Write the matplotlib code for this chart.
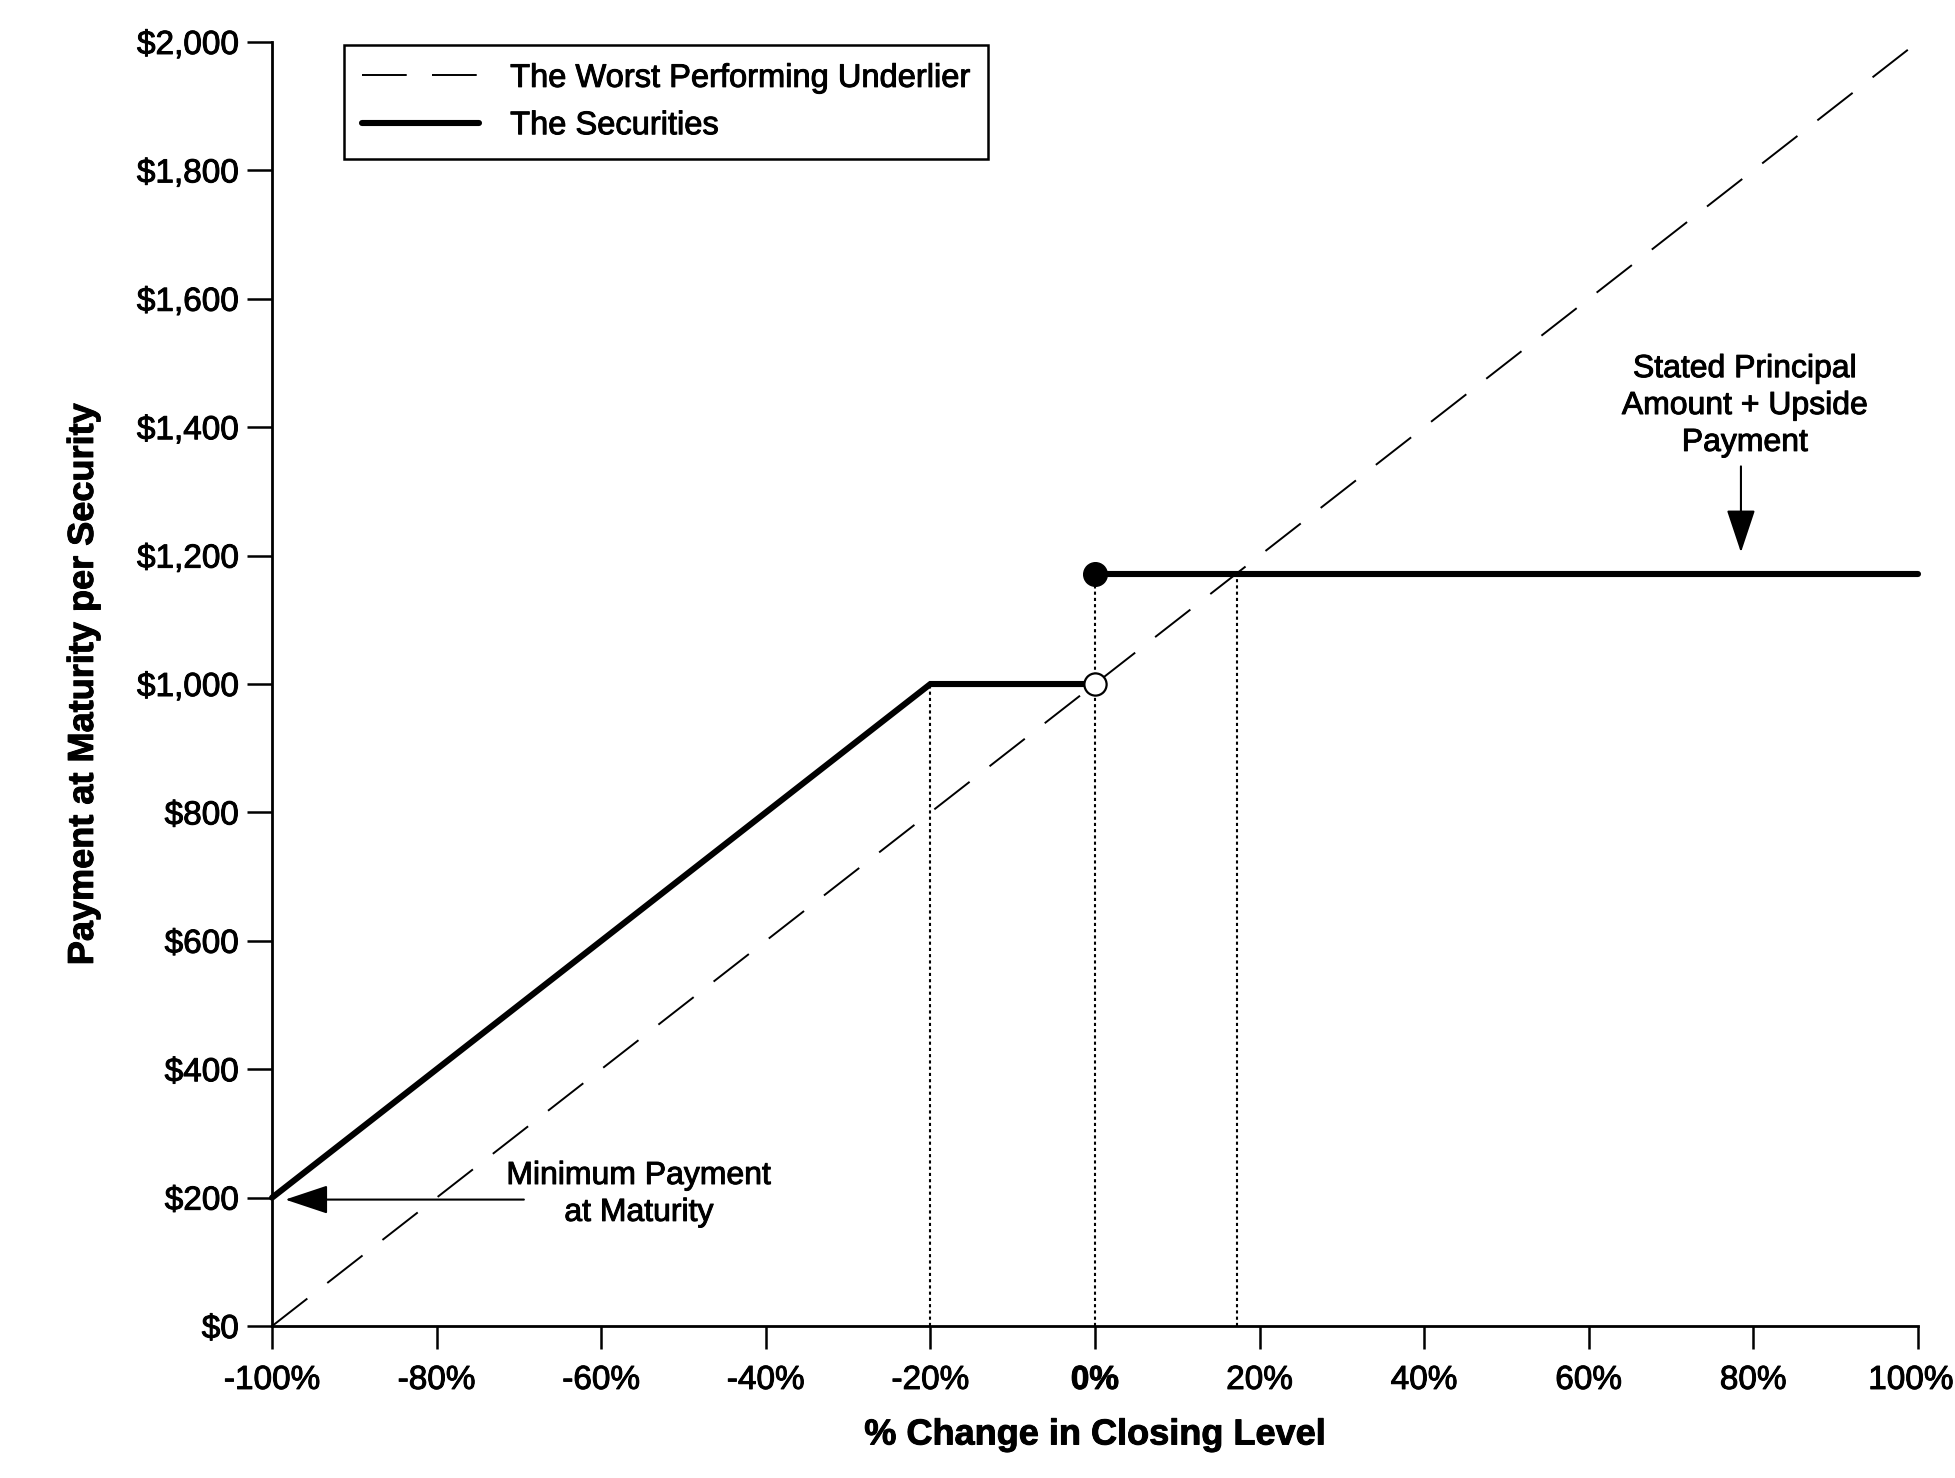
import matplotlib
matplotlib.use("Agg")
import matplotlib.pyplot as plt
import matplotlib.patheffects as pe
import matplotlib.transforms as mtransforms
import numpy as np

plt.rcParams['font.family'] = ['Liberation Sans', 'DejaVu Sans']

# ---- data ----
underlier_x = [-100, 100]
underlier_y = [0, 2000]

secur_x = [-100, -20, 0]
secur_y = [200, 1000, 1000]

upside_x = [0, 100]
upside_y = [1172, 1172]

ref_x = [-20, 0, 17.2]
ref_top = [1000, 1172, 1172]

x_ticks = [-100, -80, -60, -40, -20, 0, 20, 40, 60, 80, 100]
x_ticklabels = ['-100%', '-80%', '-60%', '-40%', '-20%', '0%', '20%', '40%', '60%', '80%', '100%']
y_ticks = [0, 200, 400, 600, 800, 1000, 1200, 1400, 1600, 1800, 2000]
y_ticklabels = ['$0', '$200', '$400', '$600', '$800', '$1,000', '$1,200', '$1,400', '$1,600', '$1,800', '$2,000']

fig = plt.figure(figsize=(19.56, 14.78), dpi=100)
ax = fig.add_axes([0.1391, 0.1028, 0.8414, 0.8688])

FS = 23
TFS = 24
heavy = [pe.withStroke(linewidth=0.7, foreground='black')]

# dotted reference lines
for xv, top in zip(ref_x, ref_top):
    ax.plot([xv, xv], [0, top], color='black', lw=1.5, dashes=(1.5, 1.5), zorder=2, clip_on=False)

# underlier
ax.plot(underlier_x, underlier_y, color='black', lw=1.4, dashes=(23, 13),
        label='The Worst Performing Underlier', zorder=3, clip_on=False)

# securities
ax.plot(secur_x, secur_y, color='black', lw=4.4, solid_capstyle='round', solid_joinstyle='miter',
        label='The Securities', zorder=4, clip_on=False)
ax.plot(upside_x, upside_y, color='black', lw=4.4, solid_capstyle='round', zorder=4, clip_on=False)

# markers
ax.plot([upside_x[0]], [upside_y[0]], 'o', color='black', ms=17, zorder=5, clip_on=False)
ax.plot([secur_x[-1]], [secur_y[-1]], 'o', mfc='white', mec='black', mew=1.6, ms=16, zorder=6, clip_on=False)

ax.set_xlim(-100, 100)
ax.set_ylim(0, 2000)

for s in ['top', 'right']:
    ax.spines[s].set_visible(False)
for s in ['left', 'bottom']:
    ax.spines[s].set_linewidth(2.0)

ax.set_xticks(x_ticks)
ax.set_xticklabels(x_ticklabels, fontsize=TFS)
ax.set_yticks(y_ticks)
ax.set_yticklabels(y_ticklabels, fontsize=TFS)
for lab in ax.get_xticklabels():
    if lab.get_text() == '0%':
        lab.set_fontweight('bold')
for lab in ax.get_xticklabels() + ax.get_yticklabels():
    lab.set_path_effects(heavy)
ax.tick_params(axis='x', direction='out', length=16.5, width=1.8, pad=11.5, color='black')
ax.tick_params(axis='y', direction='out', length=18, width=1.8, pad=6, color='black')

# keep the last x tick label inside the figure
last = ax.get_xticklabels()[-1]
last.set_transform(last.get_transform() + mtransforms.ScaledTranslation(-0.07, 0, fig.dpi_scale_trans))

ax.set_xlabel('% Change in Closing Level', fontsize=26, fontweight='bold', labelpad=15.5)
ax.set_ylabel('Payment at Maturity per Security', fontsize=26, fontweight='bold')
ax.yaxis.set_label_coords(-0.104, 0.5)
ax.xaxis.label.set_path_effects(heavy)
ax.yaxis.label.set_path_effects(heavy)

leg = ax.legend(loc='upper left', bbox_to_anchor=(0.0437, 0.9977), borderaxespad=0,
                fontsize=23.5, frameon=True, fancybox=False, framealpha=1, edgecolor='black',
                handlelength=3.59, handletextpad=0.95, borderpad=0.55, labelspacing=0.5)
leg.get_frame().set_linewidth(1.8)
for t in leg.get_texts():
    t.set_path_effects(heavy)

# annotations
t1 = ax.text(79.0, 1433, 'Stated Principal\nAmount + Upside\nPayment', ha='center', va='center',
             fontsize=FS, linespacing=1.3)
ax.annotate('', xy=(78.5, 1205), xytext=(78.5, 1339),
            arrowprops=dict(arrowstyle='-|>,head_length=0.9,head_width=0.3', mutation_scale=30,
                            color='black', lw=1.5, shrinkA=0, shrinkB=0))

t2 = ax.text(-55.4, 205, 'Minimum Payment\nat Maturity', ha='center', va='center',
             fontsize=FS, linespacing=1.3)
ax.annotate('', xy=(-98.4, 197), xytext=(-69.4, 197),
            arrowprops=dict(arrowstyle='-|>,head_length=0.9,head_width=0.3', mutation_scale=30,
                            color='black', lw=1.5, shrinkA=0, shrinkB=0))
for t in (t1, t2):
    t.set_path_effects(heavy)

fig.savefig('out.png', dpi=100)
